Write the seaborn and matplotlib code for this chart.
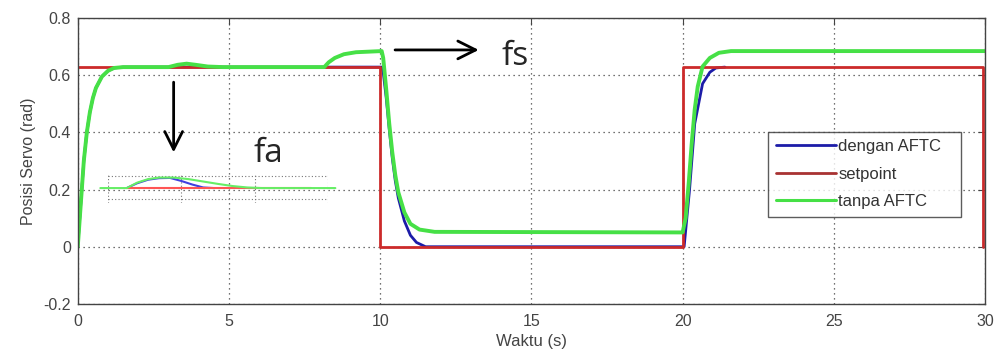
import numpy as np
import pandas as pd
import matplotlib
matplotlib.use('Agg')
import matplotlib.pyplot as plt
import seaborn as sns

# ========== DATA ==========
SP = 0.628

t_setpoint = [0, 10, 10, 20, 20, 29.93, 29.93]
setpoint = [SP, SP, 0, 0, SP, SP, 0]

t_tanpa = [0, 0.1, 0.2, 0.3, 0.4, 0.5, 0.6, 0.8, 1.0, 1.2, 1.5,
           3.0, 3.3, 3.6, 3.9, 4.3, 4.8,
           8.15, 8.3, 8.5, 8.8, 9.2, 10.05,
           10.1, 10.2, 10.3, 10.4, 10.5, 10.6, 10.8, 11.0, 11.3, 11.8,
           20.0, 20.1, 20.2, 20.3, 20.4, 20.5, 20.66, 20.9, 21.2, 21.6, 30]
tanpa = [0, 0.15, 0.30, 0.40, 0.47, 0.52, 0.555, 0.595, 0.615, 0.625, 0.628,
         0.628, 0.636, 0.640, 0.636, 0.630, 0.628,
         0.628, 0.645, 0.660, 0.673, 0.680, 0.684,
         0.66, 0.55, 0.43, 0.33, 0.25, 0.19, 0.12, 0.08, 0.06, 0.052,
         0.050, 0.10, 0.22, 0.36, 0.48, 0.56, 0.63, 0.66, 0.678, 0.684, 0.684]

t_dengan = [0, 0.1, 0.2, 0.3, 0.4, 0.5, 0.6, 0.8, 1.0, 1.2, 1.5, 10.05,
            10.1, 10.2, 10.3, 10.4, 10.5, 10.6, 10.8, 11.0, 11.2, 11.5,
            20.05, 20.23, 20.4, 20.66, 20.9, 21.1, 21.4]
dengan = [0, 0.15, 0.30, 0.40, 0.47, 0.52, 0.555, 0.595, 0.615, 0.625, 0.628, 0.628,
          0.61, 0.52, 0.41, 0.31, 0.23, 0.17, 0.09, 0.04, 0.015, 0.0,
          0.0, 0.20, 0.43, 0.57, 0.61, 0.625, 0.628]

# inset (zoom on fault fa)
ins_t_sp = [0.26, 2.77]
ins_sp = [0, 0]
ins_t_tanpa = [-0.1, 0.26, 0.4, 0.55, 0.7, 0.9, 1.1, 1.3, 1.5, 1.7, 1.9, 2.1, 3.1]
ins_tanpa = [0, 0, 0.45, 0.75, 0.88, 0.88, 0.75, 0.55, 0.35, 0.17, 0.05, 0, 0]
ins_t_dengan = [0.26, 0.4, 0.55, 0.7, 0.85, 1.0, 1.15, 1.3, 1.45]
ins_dengan = [0, 0.4, 0.7, 0.83, 0.85, 0.6, 0.3, 0.05, 0]

BLUE = '#1c1ca8'
RED = '#cc2a2a'
GREEN = '#46e046'

sns.set_style('white')
plt.rcParams['font.family'] = ['Liberation Sans', 'DejaVu Sans']

fig = plt.figure(figsize=(9.97, 3.58), dpi=100)
ax = fig.add_axes([0.078, 0.151, 0.910, 0.799])

sns.lineplot(x=t_dengan, y=dengan, ax=ax, color=BLUE, lw=2, sort=False,
             estimator=None, label='dengan AFTC')
sns.lineplot(x=t_setpoint, y=setpoint, ax=ax, color=RED, lw=2, sort=False,
             estimator=None, label='setpoint')
sns.lineplot(x=t_tanpa, y=tanpa, ax=ax, color=GREEN, lw=2.8, sort=False,
             estimator=None, label='tanpa AFTC')

ax.set_xlim(0, 30)
ax.set_ylim(-0.2, 0.8)
ax.set_xticks(range(0, 31, 5))
ax.set_yticks(np.arange(-0.2, 0.81, 0.2))
ax.set_yticklabels(['-0.2', '0', '0.2', '0.4', '0.6', '0.8'])
ax.grid(True, color='#444444', linestyle=(0, (1, 3)), linewidth=0.9)
ax.tick_params(direction='in', length=5, top=True, right=True,
               labelsize=11.5, colors='#444444', pad=5)
ax.tick_params(axis='x', pad=7)
for s in ax.spines.values():
    s.set_color('#444444')
    s.set_linewidth(1)
ax.set_xlabel('Waktu (s)', fontsize=12, color='#444444', labelpad=4)
ax.set_ylabel('Posisi Servo (rad)', fontsize=11.5, color='#444444', labelpad=5)

leg = ax.legend(loc='lower left', bbox_to_anchor=(0.761, 0.305, 0.212, 0.3),
                mode='expand', fontsize=12, handlelength=3.6, handletextpad=0.15,
                frameon=True, fancybox=False, borderaxespad=0, labelspacing=0.75,
                borderpad=0.45)
leg.get_frame().set_edgecolor('#333333')
leg.get_frame().set_linewidth(1)
for txt in leg.get_texts():
    txt.set_color('#333333')
leg.legend_handles[1].set_color('#a83232')
leg.legend_handles[2].set_linewidth(2.2)

# arrows and annotations
ax.annotate('', xy=(3.17, 0.32), xytext=(3.17, 0.585),
            arrowprops=dict(arrowstyle='->', lw=2, color='black', mutation_scale=32))
ax.annotate('', xy=(13.35, 0.688), xytext=(10.4, 0.688),
            arrowprops=dict(arrowstyle='->', lw=2, color='black', mutation_scale=32))
ax.text(6.3, 0.325, 'fa', fontsize=24, ha='center', va='center',
        family=['Open Sans', 'DejaVu Sans'])
ax.text(14.45, 0.665, 'fs', fontsize=24, ha='center', va='center',
        family=['Open Sans', 'DejaVu Sans'])

# inset
ins = fig.add_axes([0.108, 0.433, 0.221, 0.08])
ins.patch.set_alpha(0)
sns.lineplot(x=ins_t_dengan, y=ins_dengan, ax=ins, color='#4040e0', lw=1.5,
             sort=False, estimator=None)
sns.lineplot(x=ins_t_sp, y=ins_sp, ax=ins, color='#ff5555', lw=1.5,
             sort=False, estimator=None)
sns.lineplot(x=ins_t_tanpa, y=ins_tanpa, ax=ins, color='#66ee66', lw=1.5,
             sort=False, estimator=None, clip_on=False)
ins.set_xlim(0, 3)
ins.set_ylim(-1.25, 1.15)
ins.set_xticks([0, 1, 2, 3])
ins.set_yticks([-0.9, 1])
ins.set_xticklabels([])
ins.set_yticklabels([])
ins.grid(True, color='#777777', linestyle=(0, (1, 2)), linewidth=0.8)
ins.tick_params(length=0)
for s in ins.spines.values():
    s.set_visible(False)

fig.savefig('out.png', dpi=100)
